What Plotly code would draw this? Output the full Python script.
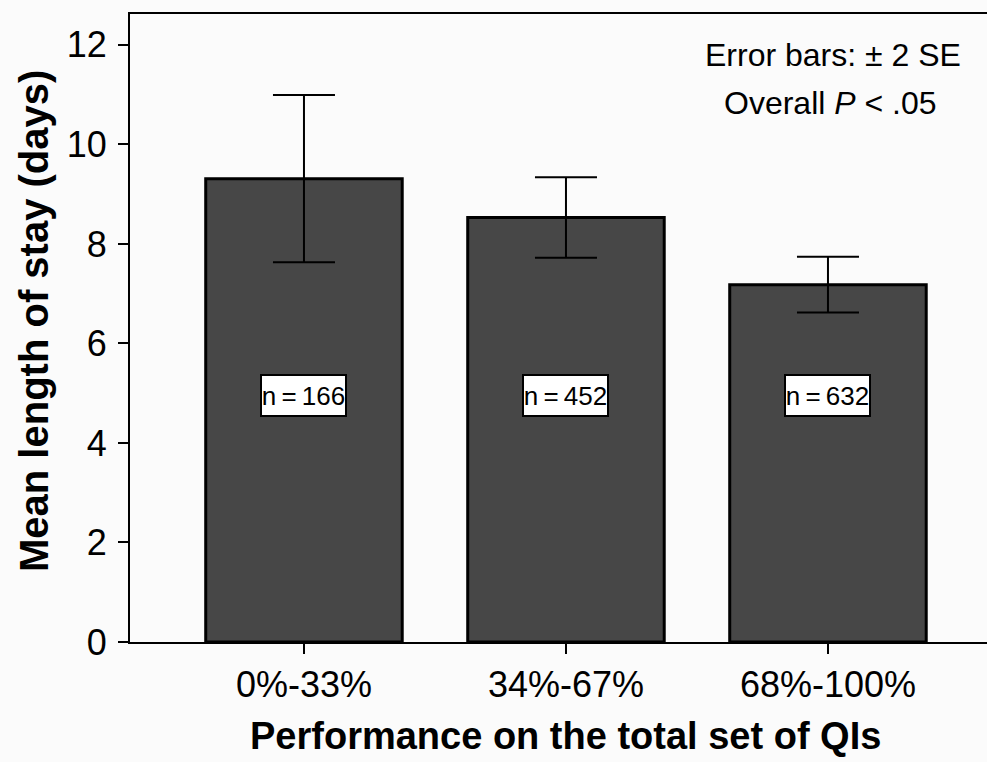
import plotly.graph_objects as go

# Mean length of stay by performance tier on the quality indicators
categories = ["0%-33%", "34%-67%", "68%-100%"]
mean_los = [9.31, 8.53, 7.18]
two_se = [1.68, 0.81, 0.56]
n_labels = ["n\u2009=\u2009166", "n\u2009=\u2009452", "n\u2009=\u2009632"]
n_label_y = [4.95, 4.95, 4.95]
y_ticks = [0, 2, 4, 6, 8, 10, 12]

BG = "#fbfbfb"
BAR = "#474747"
FONT = "Liberation Sans, Arial, Helvetica, sans-serif"

W, H = 987, 762
L, R, T, B = 130, 0, 14, 120


def px_x(p):
    return (p - L) / (W - L - R)


def px_y(p):
    return 1 - (p - T) / (H - T - B)


fig = go.Figure()
fig.add_trace(go.Bar(
    x=categories,
    y=mean_los,
    width=0.75,
    marker=dict(color=BAR, line=dict(color="black", width=3)),
    error_y=dict(type="data", array=two_se, symmetric=True,
                 color="black", thickness=2, width=31),
    showlegend=False,
))

# sample-size boxes inside each bar
for cat, lab, yv in zip(categories, n_labels, n_label_y):
    fig.add_annotation(
        x=cat, y=yv, xref="x", yref="y", text=lab, showarrow=False,
        font=dict(family=FONT, size=26, color="black"),
        width=83, height=39, align="center", valign="middle",
        bgcolor="white", bordercolor="black", borderwidth=2, borderpad=0,
    )

# statistics note
fig.add_annotation(
    x=px_x(833), y=px_y(55), xref="paper", yref="paper",
    xanchor="center", yanchor="middle", text="Error bars: \u00b1 2 SE",
    showarrow=False, font=dict(family=FONT, size=32, color="black"),
)
fig.add_annotation(
    x=px_x(830), y=px_y(103), xref="paper", yref="paper",
    xanchor="center", yanchor="middle", text="Overall <i>P</i> < .05",
    showarrow=False, font=dict(family=FONT, size=32, color="black"),
)

# x-axis title, centred under the middle category
fig.add_annotation(
    x=1, y=0, xref="x", yref="paper", yshift=-94,
    text="<b>Performance on the total set of QIs</b>",
    showarrow=False, yanchor="middle", font=dict(family=FONT, size=38, color="black"),
)

# y-axis title
fig.add_annotation(
    x=px_x(34), y=px_y(321), xref="paper", yref="paper",
    xanchor="center", yanchor="middle", textangle=-90,
    text="<b>Mean length of stay (days)</b>",
    showarrow=False, font=dict(family=FONT, size=40, color="black"),
)

fig.update_layout(
    width=W, height=H,
    margin=dict(l=L, r=R, t=T, b=B, pad=0),
    paper_bgcolor=BG, plot_bgcolor=BG,
    font=dict(family=FONT, color="black"),
    bargap=0.25,
    xaxis=dict(
        range=[-0.664, 2.607],
        showline=True, linecolor="black", linewidth=2, mirror=True,
        ticks="outside", ticklen=10, tickwidth=2, tickcolor="black",
        tickfont=dict(size=36, family=FONT, color="black"),
        showgrid=False, zeroline=False,
        ticklabelstandoff=0,
    ),
    yaxis=dict(
        range=[0, 12.62],
        tickvals=y_ticks,
        showline=True, linecolor="black", linewidth=2,
        ticks="outside", ticklen=10, tickwidth=2, tickcolor="black",
        tickfont=dict(size=36, family=FONT, color="black"),
        showgrid=False, zeroline=False,
        ticklabelstandoff=4,
    ),
)

fig.write_html("out.html")
